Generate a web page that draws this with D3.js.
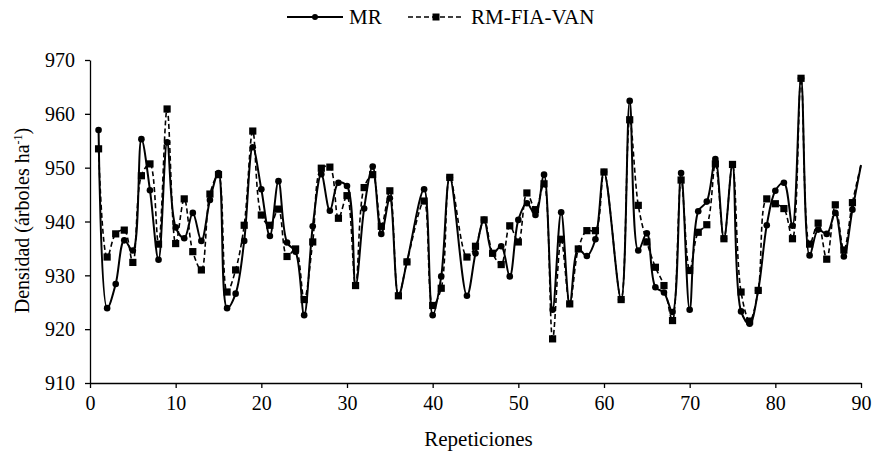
<!DOCTYPE html>
<html>
<head>
<meta charset="utf-8">
<script src="https://cdn.jsdelivr.net/npm/d3@7"></script>
<style>
  body { margin: 0; background: #fff; }
  svg text { font-family: "Liberation Serif", "DejaVu Serif", serif; fill: #000; }
</style>
</head>
<body>
<div id="chart"></div>
<script>
// repetition numbers (38, 43 and 61 have no marker in the original)
var reps = [1, 2, 3, 4, 5, 6, 7, 8, 9, 10, 11, 12, 13, 14, 15, 16, 17, 18, 19, 20,
    21, 22, 23, 24, 25, 26, 27, 28, 29, 30, 31, 32, 33, 34, 35, 36, 37, 39, 40, 41,
    42, 44, 45, 46, 47, 48, 49, 50, 51, 52, 53, 54, 55, 56, 57, 58, 59, 60, 62, 63,
    64, 65, 66, 67, 68, 69, 70, 71, 72, 73, 74, 75, 76, 77, 78, 79, 80, 81, 82, 83,
    84, 85, 86, 87, 88, 89, 90];

var mr = [957.0, 923.9, 928.4, 936.5, 934.6, 955.3, 945.8, 932.9, 954.7, 938.9,
    936.9, 941.6, 936.4, 944.0, 949.0, 923.9, 926.6, 936.4, 953.8, 946.0,
    937.3, 947.5, 936.1, 934.4, 922.6, 939.1, 948.8, 942.0, 947.2, 946.6,
    928.1, 942.4, 950.2, 937.7, 944.3, 926.2, 932.5, 946.0, 922.6, 929.8,
    948.2, 926.2, 934.1, 940.3, 934.1, 935.4, 929.8, 940.3, 943.4, 941.2,
    948.7, 923.6, 941.7, 924.7, 934.9, 933.6, 936.7, 949.2, 925.5, 962.4,
    934.6, 937.8, 927.8, 926.8, 923.2, 949.0, 923.6, 941.9, 943.7, 951.6,
    936.8, 950.6, 923.3, 921.0, 927.2, 939.3, 945.7, 947.2, 939.2, 966.6,
    933.7, 938.5, 937.7, 941.6, 933.5, 942.2, 950.5];

var rmFiaVan = [953.5, 933.4, 937.7, 938.4, 932.4, 948.5, 950.7, 935.8, 960.9, 935.9,
    944.2, 934.4, 931.0, 945.1, 948.7, 926.9, 931.0, 939.3, 956.8, 941.2,
    939.3, 942.3, 933.5, 934.9, 925.5, 936.2, 949.9, 950.1, 940.6, 944.8,
    928.1, 946.3, 948.7, 939.1, 945.7, 926.2, 932.5, 943.8, 924.4, 927.6,
    948.2, 933.4, 935.4, 940.3, 934.1, 932.0, 939.2, 936.2, 945.3, 942.2,
    947.0, 918.2, 936.7, 924.7, 934.9, 938.3, 938.3, 949.2, 925.5, 958.9,
    943.0, 936.2, 931.5, 928.1, 921.6, 947.7, 930.9, 938.0, 939.4, 950.7,
    936.8, 950.6, 926.9, 921.5, 927.2, 944.2, 943.3, 942.4, 936.8, 966.6,
    935.8, 939.7, 933.0, 943.1, 934.7, 943.5, 950.5];

var xTicks = [0, 10, 20, 30, 40, 50, 60, 70, 80, 90];
var yTicks = [910, 920, 930, 940, 950, 960, 970];

const width = 874, height = 453;
var margin = { top: 60, right: 13, bottom: 70, left: 90 }
const plot_width = width - margin.left - margin.right,
    plot_height = height - margin.top - margin.bottom

var svg = d3.select('#chart')
    .append('svg')
    .attr('width', width)
    .attr('height', height);

var plot = svg.append('g')
    .attr('transform', `translate(${margin.left},${margin.top})`);

var x = d3.scaleLinear().domain([0, 90]).range([0, plot_width]);
var y = d3.scaleLinear().domain([910, 970]).range([plot_height, 0]);

// axes
var xAxis = d3.axisBottom(x).tickValues(xTicks).tickSize(5).tickSizeOuter(0).tickPadding(8);
var yAxis = d3.axisLeft(y).tickValues(yTicks).tickSize(5).tickSizeOuter(0).tickPadding(10);

var gx = plot.append('g')
    .attr('transform', `translate(0,${plot_height})`)
    .call(xAxis);
var gy = plot.append('g').call(yAxis);

[gx, gy].forEach(function (g) {
    g.attr('font-family', null).attr('font-size', null);
    g.selectAll('path, line').attr('stroke', '#000').attr('stroke-width', 1.3);
    g.selectAll('text').style('font-size', '20px');
});
gy.selectAll('text').attr('dy', '0.34em');

// axis titles
svg.append('text')
    .attr('x', margin.left + plot_width / 2 + 3)
    .attr('y', 446)
    .attr('text-anchor', 'middle')
    .style('font-size', '21px')
    .text('Repeticiones');

var yTitle = svg.append('text')
    .attr('transform', `translate(29,${margin.top + plot_height / 2 - 1}) rotate(-90)`)
    .attr('text-anchor', 'middle')
    .style('font-size', '20px');
yTitle.append('tspan').text('Densidad  (árboles ha');
yTitle.append('tspan').attr('baseline-shift', 'super').style('font-size', '12px').text('-1');
yTitle.append('tspan').text(')');

// series
var series = [
    { name: 'MR', values: mr, dash: null, width: 2, marker: 'circle' },
    { name: 'RM-FIA-VAN', values: rmFiaVan, dash: '5,3', width: 1.6, marker: 'square' }
];

var line = d3.line()
    .x(function (d) { return x(d.x); })
    .y(function (d) { return y(d.y); })
    .curve(d3.curveCatmullRom.alpha(0.5));

// draw dashed series first, solid on top
series.slice().reverse().forEach(function (s) {
    var pts = reps.map(function (r, i) { return { x: r, y: s.values[i] }; });

    plot.append('path')
        .datum(pts)
        .attr('d', line)
        .attr('fill', 'none')
        .attr('stroke', '#000')
        .attr('stroke-width', s.width)
        .attr('stroke-dasharray', s.dash);

    // the last point sits on the axis edge and shows no marker
    var shown = pts.filter(function (d) { return d.x < 90; });
    if (s.marker == 'circle') {
        plot.selectAll(null).data(shown).enter().append('circle')
            .attr('cx', function (d) { return x(d.x); })
            .attr('cy', function (d) { return y(d.y); })
            .attr('r', 3.3)
            .attr('fill', '#000');
    } else {
        plot.selectAll(null).data(shown).enter().append('rect')
            .attr('x', function (d) { return x(d.x) - 3.6; })
            .attr('y', function (d) { return y(d.y) - 3.6; })
            .attr('width', 7.2)
            .attr('height', 7.2)
            .attr('fill', '#000');
    }
});

// legend
var legend = svg.append('g').attr('transform', 'translate(0,17)');
var legendItems = [
    { s: series[0], x0: 287, tx: 349 },
    { s: series[1], x0: 408, tx: 471 }
];
legendItems.forEach(function (it) {
    legend.append('line')
        .attr('x1', it.x0).attr('x2', it.x0 + 56)
        .attr('y1', 0).attr('y2', 0)
        .attr('stroke', '#000')
        .attr('stroke-width', it.s.width)
        .attr('stroke-dasharray', it.s.dash);
    if (it.s.marker == 'circle') {
        legend.append('circle').attr('cx', it.x0 + 28).attr('cy', 0).attr('r', 3).attr('fill', '#000');
    } else {
        legend.append('rect').attr('x', it.x0 + 24.5).attr('y', -3.5).attr('width', 7).attr('height', 7).attr('fill', '#000');
    }
    legend.append('text')
        .attr('x', it.tx)
        .attr('y', 0)
        .attr('dy', '0.35em')
        .style('font-size', '21px')
        .text(it.s.name);
});
</script>
</body>
</html>
